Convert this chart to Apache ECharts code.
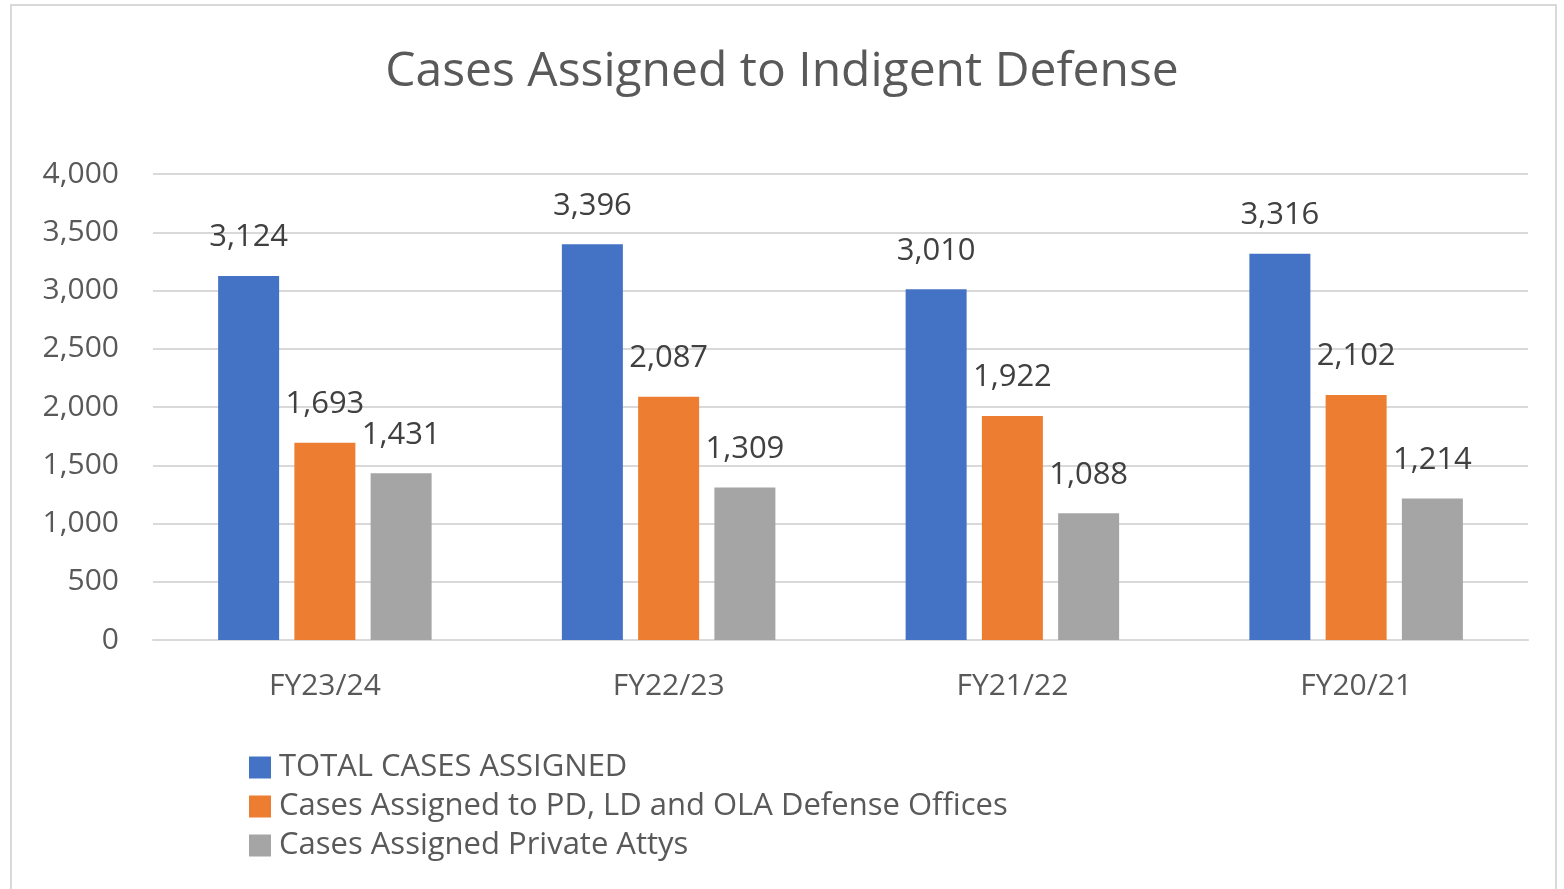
<!DOCTYPE html>
<html>
<head>
<meta charset="utf-8">
<script src="https://cdn.jsdelivr.net/npm/echarts@6/dist/echarts.min.js"></script>
<style>
html,body{margin:0;padding:0;background:#fff;}
#frame{position:absolute;left:10px;top:4px;width:1543px;height:900px;border:2px solid #d9d9d9;border-bottom:none;}
#chart{position:absolute;left:0;top:0;width:1564px;height:889px;}
</style>
</head>
<body>
<div id="frame"></div>
<div id="chart"></div>
<script>
const categories = ['FY23/24', 'FY22/23', 'FY21/22', 'FY20/21'];
const seriesNames = ['TOTAL CASES ASSIGNED', 'Cases Assigned to PD, LD and OLA Defense Offices', 'Cases Assigned Private Attys'];
const totalCases = [3124, 3396, 3010, 3316];
const officeCases = [1693, 2087, 1922, 2102];
const privateCases = [1431, 1309, 1088, 1214];
const colors = ['#4472C4', '#ED7D31', '#A5A5A5'];
const FONT = '"Open Sans", "Noto Sans", sans-serif';

const chart = echarts.init(document.getElementById('chart'), null, {renderer: 'canvas'});
const fmt = v => v.toLocaleString('en-US');
function mk(name, data, color) {
  return {
    name: name, type: 'bar', data: data, barWidth: 61, barGap: '25%',
    itemStyle: {color: color},
    label: {show: true, position: 'top', distance: 23, color: '#404040',
      fontFamily: FONT, fontSize: 31, formatter: p => fmt(p.value)}
  };
}
chart.setOption({
  animation: false,
  backgroundColor: 'transparent',
  title: {text: 'Cases Assigned to Indigent Defense', left: 'center', top: 43,
    textStyle: {fontFamily: FONT, fontSize: 48, fontWeight: 'normal', color: '#595959'}},
  legend: {orient: 'vertical', left: 249, top: 752, padding: 0, itemWidth: 22, itemHeight: 22, itemGap: 8,
    icon: 'rect', textStyle: {fontFamily: FONT, fontSize: 31, lineHeight: 31, color: '#595959', padding: [0,0,0,3]}},
  grid: {left: 153, right: 36, top: 174, bottom: 249, containLabel: false},
  xAxis: {type: 'category', data: categories,
    axisLine: {lineStyle: {color: '#d9d9d9', width: 2}}, axisTick: {show: false},
    axisLabel: {color: '#595959', fontFamily: FONT, fontSize: 30, margin: 31}},
  yAxis: {type: 'value', min: 0, max: 4000, interval: 500,
    axisLine: {show: false}, axisTick: {show: false},
    splitLine: {lineStyle: {color: '#d9d9d9', width: 2}},
    axisLabel: {color: '#595959', fontFamily: FONT, fontSize: 30, margin: 34, formatter: v => fmt(v)}},
  series: [mk(seriesNames[0], totalCases, colors[0]), mk(seriesNames[1], officeCases, colors[1]), mk(seriesNames[2], privateCases, colors[2])]
});
</script>
</body>
</html>
